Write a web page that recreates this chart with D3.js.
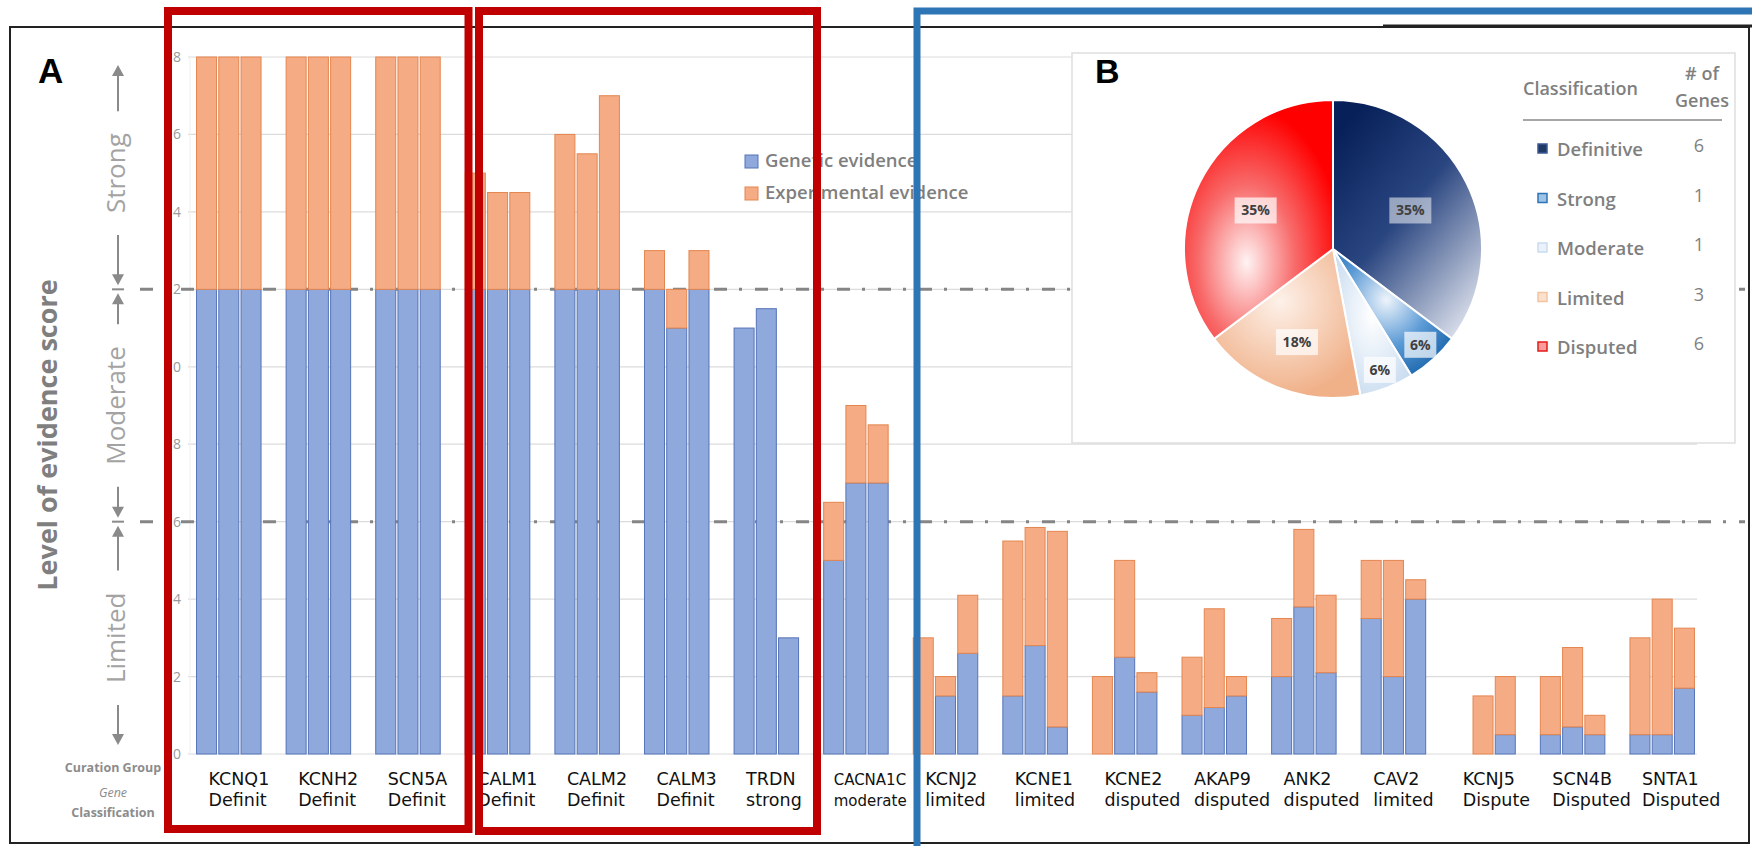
<!DOCTYPE html>
<html>
<head>
<meta charset="utf-8">
<script src="https://cdn.jsdelivr.net/npm/d3@7.9.0/dist/d3.min.js"></script>
<style>
  html, body { margin: 0; padding: 0; background: #fff; }
  svg { display: block; font-family: "Open Sans", "Noto Sans", sans-serif; }
</style>
</head>
<body>
<svg id="chart" width="1752" height="846"></svg>
<script>
// --- Data ---
const genes = ["KCNQ1", "KCNH2", "SCN5A", "CALM1", "CALM2", "CALM3", "TRDN", "CACNA1C",
  "KCNJ2", "KCNE1", "KCNE2", "AKAP9", "ANK2", "CAV2", "KCNJ5", "SCN4B", "SNTA1"];
const geneClass = ["Definit", "Definit", "Definit", "Definit", "Definit", "Definit", "strong", "moderate",
  "limited", "limited", "disputed", "disputed", "disputed", "limited", "Dispute", "Disputed", "Disputed"];

// three curation groups per gene
const genetic = [
  [12, 12, 12], [12, 12, 12], [12, 12, 12], [12, 12, 12], [12, 12, 12], [12, 11, 12],
  [11, 11.5, 3], [5, 7, 7], [0, 1.5, 2.6], [1.5, 2.8, 0.7], [0, 2.5, 1.6], [1, 1.2, 1.5],
  [2, 3.8, 2.1], [3.5, 2, 4], [0, 0, 0.5], [0.5, 0.7, 0.5], [0.5, 0.5, 1.7]
];
const experimental = [
  [6, 6, 6], [6, 6, 6], [6, 6, 6], [3, 2.5, 2.5], [4, 3.5, 5], [1, 1, 1],
  [0, 0, 0], [1.5, 2, 1.5], [3, 0.5, 1.5], [4, 3.05, 5.05], [2, 2.5, 0.5], [1.5, 2.55, 0.5],
  [1.5, 2, 2], [1.5, 3, 0.5], [0, 1.5, 1.5], [1.5, 2.05, 0.5], [2.5, 3.5, 1.55]
];
const seriesNames = ["Genetic evidence", "Experimental evidence"];
const yTicks = [0, 2, 4, 6, 8, 10, 12, 14, 16, 18];
const zones = ["Strong", "Moderate", "Limited"];
const zoneBounds = [[18, 12], [12, 6], [6, 0]];
const cutoffs = [12, 6];

const pieClasses = ["Definitive", "Strong", "Moderate", "Limited", "Disputed"];
const pieCounts = [6, 1, 1, 3, 6];
const pieLabels = ["35%", "6%", "6%", "18%", "35%"];

// --- Setup ---
const GEN_FILL = "#8fa9dc", GEN_LINE = "#5574b8";
const EXP_FILL = "#f5ab83", EXP_LINE = "#e48650";
const GREY = "#7f7f7f";

const svg = d3.select("#chart");

const x = d3.scaleBand().domain(genes).range([184, 1707]).paddingInner(0.28).paddingOuter(0.14);
const xi = d3.scaleBand().domain([0, 1, 2]).range([0, x.bandwidth()]).paddingInner(0.1);
const y = d3.scaleLinear().domain([0, 18]).range([754, 57]);

// outer black frame
svg.append("rect").attr("x", 10).attr("y", 27).attr("width", 1739).attr("height", 816)
  .attr("fill", "none").attr("stroke", "#222").attr("stroke-width", 2);
svg.append("line").attr("x1", 1383).attr("x2", 1752).attr("y1", 26).attr("y2", 26)
  .attr("stroke", "#222").attr("stroke-width", 3);

// gridlines
svg.append("g").selectAll("line").data(yTicks).join("line")
  .attr("x1", 188).attr("x2", 1697)
  .attr("y1", d => y(d)).attr("y2", d => y(d))
  .attr("stroke", "#dcdcdc").attr("stroke-width", 1.2);
svg.append("line").attr("x1", 190).attr("x2", 190).attr("y1", y(18)).attr("y2", y(0))
  .attr("stroke", "#efefef");

// y tick labels
svg.append("g").selectAll("text").data(yTicks).join("text")
  .attr("x", 181).attr("y", d => y(d) + 5)
  .attr("text-anchor", "end").attr("font-size", 14).attr("fill", "#9a9a9a")
  .text(d => d);

// cutoff dash-dot lines
svg.append("g").selectAll("line").data(cutoffs).join("line")
  .attr("x1", 140).attr("x2", 1745)
  .attr("y1", d => y(d)).attr("y2", d => y(d))
  .attr("stroke", "#858585").attr("stroke-width", 3)
  .attr("stroke-dasharray", "13 12 3 13");

// stacked bars
const bars = genes.flatMap((gene, gi) => [0, 1, 2].map(i => ({
  gene, i, g: genetic[gi][i], e: experimental[gi][i]
})));
const stacked = d3.stack().keys(["g", "e"])(bars);
const fills = [GEN_FILL, EXP_FILL], lines = [GEN_LINE, EXP_LINE];

svg.append("g").selectAll("g").data(stacked).join("g")
  .attr("fill", (d, k) => fills[k]).attr("stroke", (d, k) => lines[k]).attr("stroke-width", 1)
  .selectAll("rect").data(d => d.filter(s => s[1] - s[0] > 0)).join("rect")
  .attr("x", d => x(d.data.gene) + xi(d.data.i))
  .attr("width", xi.bandwidth())
  .attr("y", d => y(d[1]))
  .attr("height", d => y(d[0]) - y(d[1]));

// gene labels
const labX = d => x(d) + (d === "CACNA1C" ? 10 : 12);
const lab = svg.append("g").attr("font-family", "DejaVu Sans, sans-serif")
  .selectAll("text").data(genes).join("text")
  .attr("font-size", d => d === "CACNA1C" ? 15 : 17.5)
  .attr("fill", "#111");
lab.append("tspan").attr("x", labX).attr("y", 785).text(d => d);
lab.append("tspan").attr("x", labX).attr("y", 806).text((d, i) => geneClass[i]);

// bar legend
const leg = svg.append("g").selectAll("g").data(seriesNames).join("g")
  .attr("transform", (d, i) => `translate(745,${155 + i * 32})`);
leg.append("rect").attr("width", 13).attr("height", 13)
  .attr("fill", (d, i) => fills[i]).attr("stroke", (d, i) => lines[i]);
leg.append("text").attr("x", 20).attr("y", 12).attr("font-size", 18.5)
  .attr("font-weight", 600).attr("fill", GREY).text(d => d);

// left-side annotations
svg.append("text").attr("x", 38).attr("y", 83).attr("font-family", "Liberation Sans, Arial, sans-serif")
  .attr("font-weight", 700).attr("font-size", 35).text("A");
svg.append("text").attr("transform", "translate(57,435) rotate(-90)")
  .attr("text-anchor", "middle").attr("font-size", 27).attr("font-weight", 700)
  .attr("fill", GREY).text("Level of evidence score");

const zoneG = svg.append("g").attr("fill", "#a3a3a3");
zones.forEach((z, i) => {
  const [hi, lo] = zoneBounds[i];
  const cy = y((hi + lo) / 2);
  const t = zoneG.append("text").attr("transform", `translate(116,${cy}) rotate(-90)`)
    .attr("dy", "0.35em").attr("text-anchor", "middle").attr("font-size", 26).text(z);
  const half = t.node().getComputedTextLength() / 2 + 22;
  const top = y(hi) + (hi === 18 ? 8 : 4);
  const bot = y(lo) - (lo === 0 ? 9 : 4);
  // arrows
  [[cy - half, top], [cy + half, bot]].forEach(([from, tip]) => {
    const dir = tip < from ? -1 : 1;
    svg.append("line").attr("x1", 118).attr("x2", 118).attr("y1", from).attr("y2", tip - dir * 8)
      .attr("stroke", "#8a8a8a").attr("stroke-width", 2);
    svg.append("path").attr("d", `M112,${tip - dir * 11}L124,${tip - dir * 11}L118,${tip}Z`)
      .attr("fill", "#8a8a8a");
  });
});
cutoffs.forEach(c => {
  svg.append("line").attr("x1", 112).attr("x2", 124).attr("y1", y(c)).attr("y2", y(c))
    .attr("stroke", "#8a8a8a").attr("stroke-width", 2);
});

const cap = svg.append("g").attr("fill", "#8c8c8c").attr("font-size", 12.5).attr("text-anchor", "middle");
cap.append("text").attr("x", 113).attr("y", 772).attr("font-weight", 700).text("Curation Group");
cap.append("text").attr("x", 113).attr("y", 797).attr("font-style", "italic").text("Gene");
cap.append("text").attr("x", 113).attr("y", 817).attr("font-weight", 700).text("Classification");

// --- Inset B: pie ---
svg.append("rect").attr("x", 1072).attr("y", 53).attr("width", 663).attr("height", 390)
  .attr("fill", "#fff").attr("stroke", "#dedede").attr("stroke-width", 1.5);
svg.append("text").attr("x", 1095).attr("y", 83).attr("font-family", "Liberation Sans, Arial, sans-serif")
  .attr("font-weight", 700).attr("font-size", 34).text("B");

const defs = svg.append("defs");
const grads = [
  { type: "linear", stops: [[0, "#07205a"], [0.45, "#2a4680"], [1, "#dfe3ee"]] },
  { type: "radial", c: [0.45, 0.4], stops: [[0, "#eef4fb"], [0.55, "#5c9bd6"], [1, "#1d68ad"]] },
  { type: "radial", c: [0.5, 0.45], stops: [[0, "#ffffff"], [1, "#c6daef"]] },
  { type: "radial", c: [0.45, 0.35], stops: [[0, "#fdf1e9"], [1, "#f0b088"]] },
  { type: "radial", c: [0.42, 0.68], stops: [[0, "#fff3f3"], [0.5, "#f86a6a"], [1, "#ff0000"]] }
];
grads.forEach((gd, i) => {
  const g = gd.type === "linear"
    ? defs.append("linearGradient").attr("x1", 0.15).attr("y1", 0.05).attr("x2", 0.85).attr("y2", 1)
    : defs.append("radialGradient").attr("cx", gd.c[0]).attr("cy", gd.c[1]).attr("r", 0.65);
  g.attr("id", "pg" + i);
  g.selectAll("stop").data(gd.stops).join("stop")
    .attr("offset", d => d[0]).attr("stop-color", d => d[1]);
});

const R = 149, PCX = 1333, PCY = 249;
const pie = d3.pie().sort(null)(pieCounts);
const arc = d3.arc().innerRadius(0).outerRadius(R);
const pg = svg.append("g").attr("transform", `translate(${PCX},${PCY})`);
pg.selectAll("path").data(pie).join("path")
  .attr("d", arc).attr("fill", (d, i) => `url(#pg${i})`)
  .attr("stroke", "#fff").attr("stroke-width", 2);

const total = d3.sum(pieCounts);
const labelArc = d => {
  const f = d.value / total;
  const r = f > 0.3 ? R * 0.58 : f > 0.1 ? R * 0.67 : R * 0.87;
  return d3.arc().innerRadius(r).outerRadius(r).centroid(d);
};
const pl = pg.selectAll("g.lbl").data(pie).join("g").attr("class", "lbl")
  .attr("transform", d => `translate(${labelArc(d)})`);
pl.append("rect").attr("x", (d, i) => pieLabels[i].length > 2 ? -21 : -16).attr("y", -13)
  .attr("width", (d, i) => pieLabels[i].length > 2 ? 42 : 32).attr("height", 26)
  .attr("fill", (d, i) => i === 0 ? "#e4e7ee" : "#fff").attr("opacity", (d, i) => i === 0 ? 0.6 : 0.7);
pl.append("text").attr("text-anchor", "middle").attr("dy", "0.35em")
  .attr("font-size", 14).attr("font-weight", 700).attr("fill", "#404040")
  .text((d, i) => pieLabels[i]);

// table legend
const tg = svg.append("g").attr("fill", GREY).attr("font-weight", 600);
tg.append("text").attr("x", 1523).attr("y", 95).attr("font-size", 18).text("Classification");
tg.append("text").attr("x", 1702).attr("y", 80).attr("font-size", 18).attr("text-anchor", "middle").text("# of");
tg.append("text").attr("x", 1702).attr("y", 107).attr("font-size", 18).attr("text-anchor", "middle").text("Genes");
svg.append("line").attr("x1", 1523).attr("x2", 1722).attr("y1", 120).attr("y2", 120)
  .attr("stroke", "#a6a6a6").attr("stroke-width", 2);

const rowY = d3.scalePoint().domain(pieClasses).range([149, 347]);
const markFill = ["#1f3864", "#9dc3e6", "#eaf1fa", "#fbe0cd", "#ff9b9b"];
const markLine = ["#3b5896", "#2e75b6", "#c9dcf0", "#f4c3a0", "#e31b1b"];
const rows = tg.selectAll("g.row").data(pieClasses).join("g").attr("class", "row")
  .attr("transform", d => `translate(0,${rowY(d)})`);
rows.append("rect").attr("x", 1538).attr("y", -5).attr("width", 9).attr("height", 9)
  .attr("fill", (d, i) => markFill[i]).attr("stroke", (d, i) => markLine[i]).attr("stroke-width", 1.5);
rows.append("text").attr("x", 1557).attr("y", 7).attr("font-size", 18.5).text(d => d);
rows.append("text").attr("x", 1699).attr("y", 3).attr("text-anchor", "middle")
  .attr("font-size", 18).attr("font-weight", 400).text((d, i) => pieCounts[i]);

// --- highlight boxes ---
const RED = "#c00000";
svg.append("rect").attr("x", 168).attr("y", 11).attr("width", 300.5).attr("height", 818)
  .attr("fill", "none").attr("stroke", RED).attr("stroke-width", 8);
svg.append("rect").attr("x", 479).attr("y", 11).attr("width", 338).attr("height", 820)
  .attr("fill", "none").attr("stroke", RED).attr("stroke-width", 8);
svg.append("path").attr("d", "M917,846L917,11L1752,11")
  .attr("fill", "none").attr("stroke", "#2e75b6").attr("stroke-width", 7);
</script>
</body>
</html>
